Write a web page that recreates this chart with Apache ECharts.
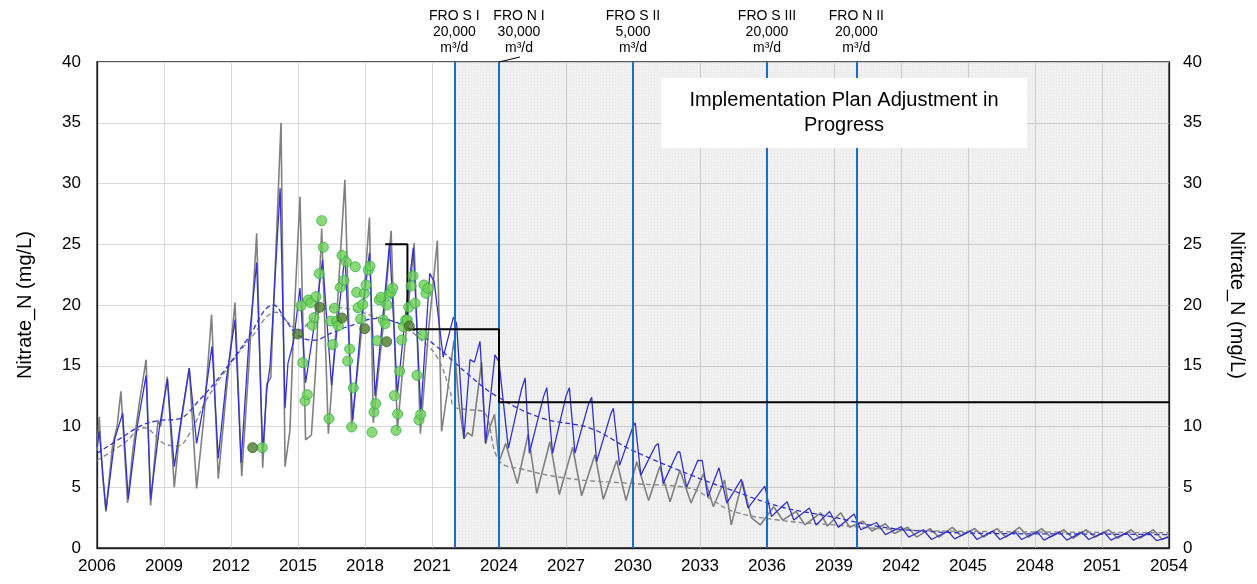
<!DOCTYPE html>
<html>
<head>
<meta charset="utf-8">
<script src="https://cdn.jsdelivr.net/npm/echarts@6/dist/echarts.min.js"></script>
<style>
html,body{margin:0;padding:0;background:#fff;}
#chart{width:1257px;height:584px;}
</style>
</head>
<body>
<div id="chart"></div>
<script>
// ---------------- DATA ----------------
const yearMin = 2006, yearMax = 2054, yearStep = 3;
const yMin = 0, yMax = 40, yStep = 5;

// simulated concentration (grey)
const simGrey = [[2006.0,8.0],[2006.1,10.8],[2006.25,6.0],[2006.4,3.0],[2006.7,8.5],[2006.9,10.0],[2007.07,12.9],[2007.2,9.0],[2007.37,3.7],[2007.6,8.0],[2007.9,12.0],[2008.2,15.5],[2008.4,3.5],[2008.73,10.5],[2008.85,10.0],[2009.15,14.1],[2009.46,5.0],[2009.7,9.5],[2010.13,14.8],[2010.46,4.9],[2010.8,11.0],[2011.13,19.2],[2011.43,5.7],[2011.8,13.0],[2012.18,20.2],[2012.48,5.9],[2012.8,15.0],[2013.15,25.9],[2013.42,6.6],[2013.6,13.5],[2013.78,14.0],[2014.24,35.0],[2014.42,6.7],[2014.64,9.7],[2014.8,18.0],[2015.09,28.9],[2015.34,8.9],[2015.6,9.3],[2015.8,15.0],[2016.06,26.3],[2016.36,9.4],[2016.7,18.0],[2017.1,30.3],[2017.4,9.9],[2017.8,17.0],[2018.2,27.2],[2018.37,10.3],[2018.8,18.0],[2019.17,26.1],[2019.45,9.7],[2019.8,17.0],[2020.2,25.1],[2020.48,9.4],[2020.85,18.0],[2021.24,25.3],[2021.43,9.6],[2021.7,13.0],[2021.98,17.1],[2022.2,12.0],[2022.43,9.0],[2022.6,9.5],[2022.8,9.2],[2023.22,15.3],[2023.4,8.6],[2023.6,10.0],[2023.8,11.0],[2024.0,7.1],[2024.3,8.6],[2024.82,5.3],[2025.31,9.4],[2025.69,4.5],[2026.28,8.75],[2026.7,4.4],[2027.3,8.3],[2027.7,4.3],[2028.3,7.7],[2028.67,4.0],[2029.27,7.2],[2029.69,3.9],[2030.17,7.1],[2030.7,3.9],[2031.2,6.7],[2031.66,3.8],[2032.1,6.4],[2032.6,3.7],[2033.15,6.1],[2033.6,3.4],[2034.1,5.6],[2034.4,1.9],[2034.9,5.5],[2035.3,2.5],[2035.7,1.9],[2036.3,3.4],[2036.7,2.3],[2037.3,3.0],[2037.7,1.9],[2038.4,2.9],[2038.7,1.8],[2039.3,2.9],[2039.7,1.7],[2040.3,2.2],[2040.7,1.4],[2041.3,2.0],[2041.7,1.2],[2042.3,1.7],[2042.7,0.9],[2043.3,1.6],[2043.7,0.9],[2044.3,1.7],[2044.7,1.0],[2045.3,1.6],[2045.7,0.9],[2046.3,1.6],[2046.7,0.9],[2047.3,1.7],[2047.7,0.9],[2048.3,1.6],[2048.7,0.9],[2049.3,1.5],[2049.7,0.8],[2050.3,1.5],[2050.7,0.9],[2051.3,1.5],[2051.7,0.8],[2052.3,1.5],[2052.7,0.8],[2053.3,1.5],[2053.7,0.7],[2054.0,1.0]];

// simulated concentration (blue)
const simBlue = [[2006.0,8.3],[2006.1,9.6],[2006.4,3.1],[2006.8,9.0],[2007.15,11.1],[2007.4,4.0],[2007.8,10.0],[2008.2,14.2],[2008.4,4.0],[2008.8,10.0],[2009.15,13.9],[2009.46,6.7],[2009.8,11.0],[2010.13,14.8],[2010.46,8.6],[2010.8,12.0],[2011.15,16.6],[2011.43,7.4],[2011.8,14.0],[2012.18,18.8],[2012.45,7.0],[2012.8,17.0],[2013.15,23.5],[2013.42,7.8],[2013.6,13.0],[2013.75,15.0],[2014.2,29.6],[2014.42,11.5],[2014.55,15.2],[2014.8,17.0],[2015.09,21.4],[2015.34,13.6],[2015.7,18.0],[2016.1,23.7],[2016.5,13.4],[2016.8,19.0],[2017.1,24.1],[2017.45,10.5],[2017.8,18.0],[2018.2,24.3],[2018.45,12.5],[2018.8,19.0],[2019.1,25.1],[2019.45,12.7],[2019.8,19.0],[2020.16,24.7],[2020.5,11.2],[2020.9,22.6],[2021.1,21.9],[2021.5,15.7],[2021.96,19.0],[2022.1,18.5],[2022.43,9.0],[2022.7,15.5],[2022.9,15.3],[2023.15,17.0],[2023.4,8.6],[2023.82,15.9],[2024.0,15.3],[2024.42,8.2],[2025.0,13.0],[2025.17,14.0],[2025.36,7.8],[2026.0,12.5],[2026.14,13.2],[2026.4,7.8],[2027.0,12.5],[2027.15,13.2],[2027.4,7.8],[2028.0,11.8],[2028.15,12.4],[2028.37,7.1],[2029.0,11.0],[2029.12,11.5],[2029.4,6.8],[2030.0,10.0],[2030.1,10.3],[2030.35,6.0],[2031.0,8.4],[2031.13,8.6],[2031.35,5.3],[2032.0,7.9],[2032.1,7.9],[2032.4,5.0],[2032.9,7.2],[2033.1,7.2],[2033.35,4.2],[2033.85,6.6],[2034.2,3.7],[2034.85,5.65],[2035.15,3.3],[2035.9,5.1],[2036.2,2.6],[2036.9,3.8],[2037.2,2.3],[2037.9,3.3],[2038.2,1.9],[2038.8,3.0],[2039.2,1.7],[2039.9,2.8],[2040.2,1.5],[2040.9,2.1],[2041.3,1.1],[2042.0,1.75],[2042.35,0.9],[2043.0,1.5],[2043.37,0.7],[2044.1,1.4],[2044.4,0.75],[2045.1,1.4],[2045.4,0.7],[2046.1,1.4],[2046.43,0.7],[2047.1,1.35],[2047.4,0.7],[2048.1,1.35],[2048.4,0.65],[2049.1,1.3],[2049.42,0.65],[2050.1,1.3],[2050.4,0.7],[2051.1,1.3],[2051.4,0.65],[2052.1,1.25],[2052.4,0.65],[2053.1,1.25],[2053.45,0.6],[2054.0,0.9]];

// trends (dashed)
const trendBlue = [[2006.0,7.8],[2007.2,9.2],[2008.0,10.1],[2008.8,10.5],[2009.6,10.6],[2010.6,12.2],[2011.7,14.6],[2012.7,17.1],[2013.9,20.0],[2014.5,18.6],[2015.0,17.5],[2015.7,17.1],[2016.5,17.7],[2017.2,18.2],[2018.6,18.9],[2019.5,18.5],[2020.3,17.8],[2021.2,16.6],[2022.0,15.3],[2022.55,14.4],[2023.8,12.6],[2025.9,10.7],[2028.1,9.85],[2029.9,8.1],[2032.6,6.0],[2034.35,4.8],[2036.6,3.4],[2038.8,2.6],[2041.06,1.75],[2043.3,1.35],[2046.0,1.2],[2050.0,1.15],[2054.0,1.1]];
const trendGrey = [[2006.0,7.2],[2007.2,8.6],[2008.1,9.9],[2009.0,8.6],[2009.6,8.4],[2010.2,9.6],[2010.9,12.2],[2012.0,15.2],[2012.9,17.3],[2014.0,19.4],[2014.6,18.5],[2015.0,17.9],[2015.8,19.2],[2016.5,19.8],[2017.5,19.6],[2018.5,19.0],[2019.6,18.4],[2020.4,17.3],[2021.2,15.8],[2021.8,13.0],[2022.0,11.6],[2022.6,11.4],[2023.3,11.2],[2024.0,7.2],[2025.0,6.5],[2027.2,5.7],[2030.0,5.3],[2032.6,4.9],[2033.5,4.0],[2034.5,3.0],[2036.5,2.3],[2039.0,1.9],[2042.0,1.5],[2046.0,1.35],[2050.0,1.3],[2054.0,1.25]];

// observations
const obsLight = [[2013.40,8.26],[2015.134,19.94],[2015.209,15.25],[2015.313,12.10],[2015.418,12.62],[2015.463,20.41],[2015.567,20.19],[2015.642,18.33],[2015.716,18.96],[2015.806,20.69],[2015.955,22.58],[2016.060,26.94],[2016.134,24.75],[2016.388,10.64],[2016.463,18.68],[2016.552,16.74],[2016.627,19.73],[2016.731,18.68],[2016.806,18.27],[2016.896,21.45],[2016.970,24.09],[2017.060,22.03],[2017.164,23.54],[2017.224,15.39],[2017.313,16.38],[2017.403,9.96],[2017.478,13.17],[2017.567,23.15],[2017.627,21.04],[2017.687,19.78],[2017.806,18.85],[2017.896,20.05],[2017.970,20.96],[2018.045,21.65],[2018.149,22.88],[2018.224,23.21],[2018.313,9.52],[2018.403,11.19],[2018.478,11.88],[2018.552,17.06],[2018.642,20.41],[2018.716,20.63],[2018.821,18.77],[2018.896,18.46],[2018.985,20.0],[2019.075,20.88],[2019.164,21.04],[2019.239,21.40],[2019.313,12.54],[2019.388,9.68],[2019.463,11.03],[2019.552,14.54],[2019.642,17.12],[2019.716,18.22],[2019.821,18.77],[2019.896,18.77],[2019.955,19.81],[2020.060,21.56],[2020.149,22.41],[2020.239,20.14],[2020.328,14.21],[2020.418,10.53],[2020.493,11.0],[2020.582,17.53],[2020.642,21.65],[2020.731,20.96],[2020.821,21.37]];
const obsDark = [[2012.97,8.26],[2014.985,17.61],[2015.970,19.81],[2016.970,18.93],[2017.985,18.05],[2018.970,16.98],[2019.985,18.27]];

// standard / target step line
const targetStep = [[2018.9,25],[2019.9,25],[2019.9,18],[2024,18],[2024,12],[2054,12]];

// implementation milestones
const msYears = [2022, 2024, 2030, 2036, 2040];
const msNames = ['FRO S I', 'FRO N I', 'FRO S II', 'FRO S III', 'FRO N II'];
const msCaps  = ['20,000', '30,000', '5,000', '20,000', '20,000'];
const msUnit = 'm³/d';

const projStart = 2022, projEnd = 2054;
const yTitle = 'Nitrate_N (mg/L)';
const noteText = 'Implementation Plan Adjustment in\nProgress';

// ---------------- CHART ----------------
const FONT = '"Liberation Sans", Arial, sans-serif';
const chart = echarts.init(document.getElementById('chart'), null, {renderer: 'canvas'});

// fine mesh pattern for projection period
const pc = document.createElement('canvas');
pc.width = 3; pc.height = 3;
const pctx = pc.getContext('2d');
pctx.fillStyle = 'rgba(0,0,0,0.05)';
pctx.fillRect(0,0,3,3);
pctx.fillStyle = 'rgba(0,0,0,0.025)';
pctx.fillRect(0,0,3,1);
pctx.fillRect(0,1,1,2);

const msLines = msYears.map((y, i) => ({
  xAxis: y,
  label: {
    show: true,
    position: 'end',
    formatter: msNames[i] + '\n' + msCaps[i] + '\n' + msUnit,
    color: '#000',
    fontFamily: FONT,
    fontSize: 14,
    lineHeight: 16,
    align: 'center',
    distance: 6,
    offset: i === 1 ? [20, 0] : [0, 0]
  }
}));

const option = {
  animation: false,
  backgroundColor: '#fff',
  grid: {left: 97, right: 88, top: 62, bottom: 36, show: true, borderColor: '#222', borderWidth: 1.3, backgroundColor: 'transparent'},
  xAxis: {
    type: 'value', min: yearMin, max: yearMax, interval: yearStep,
    axisLine: {show: true, lineStyle: {color: '#222', width: 1.3}},
    axisTick: {show: false},
    axisLabel: {color: '#000', fontSize: 17, fontFamily: FONT, margin: 10, formatter: v => String(v)},
    splitLine: {show: true, lineStyle: {color: '#d9d9d9', width: 1}}
  },
  yAxis: [{
    type: 'value', min: yMin, max: yMax, interval: yStep,
    name: yTitle, nameLocation: 'middle', nameGap: 62,
    nameTextStyle: {color: '#000', fontSize: 20, fontFamily: FONT},
    axisLine: {show: true, lineStyle: {color: '#222', width: 1.3}},
    axisTick: {show: false},
    axisLabel: {color: '#000', fontSize: 17, fontFamily: FONT, margin: 16},
    splitLine: {show: true, lineStyle: {color: '#d9d9d9', width: 1}}
  }, {
    type: 'value', min: yMin, max: yMax, interval: yStep, position: 'right',
    name: yTitle, nameLocation: 'middle', nameGap: 58, nameRotate: -90,
    nameTextStyle: {color: '#000', fontSize: 20, fontFamily: FONT},
    axisLine: {show: true, lineStyle: {color: '#222', width: 1.3}},
    axisTick: {show: false},
    axisLabel: {color: '#000', fontSize: 17, fontFamily: FONT, margin: 14},
    splitLine: {show: false}
  }],
  series: [
    {
      type: 'line', data: simGrey, showSymbol: false, symbol: 'none',
      lineStyle: {color: '#808080', width: 1.6}, z: 3,
      markArea: {
        silent: true,
        itemStyle: {color: {image: pc, repeat: 'repeat'}},
        data: [[{xAxis: projStart}, {xAxis: projEnd}]]
      }
    },
    {type: 'line', data: trendGrey, smooth: 0.4, symbol: 'none', lineStyle: {color: '#8a8a8a', width: 1.4, type: [5, 3]}, z: 3},
    {type: 'line', data: simBlue, symbol: 'none', lineStyle: {color: '#3333cc', width: 1.3}, z: 4},
    {type: 'line', data: trendBlue, smooth: 0.4, symbol: 'none', lineStyle: {color: '#3333cc', width: 1.3, type: [5, 3]}, z: 4},
    {type: 'line', data: targetStep, symbol: 'none', lineStyle: {color: '#000', width: 2}, z: 5},
    {
      type: 'line', data: [], symbol: 'none', z: 6,
      markLine: {
        silent: true, symbol: ['none', 'none'],
        lineStyle: {color: '#1a6fc4', width: 2, type: 'solid'},
        data: msLines
      }
    },
    {type: 'scatter', data: obsLight, symbolSize: 10, itemStyle: {color: '#6fcf55', borderColor: '#2fb04c', borderWidth: 1}, z: 7},
    {type: 'scatter', data: obsDark, symbolSize: 10, itemStyle: {color: '#4e7a2f', borderColor: '#3e6525', borderWidth: 1}, z: 8}
  ],
  graphic: [
    {type: 'rect', shape: {x: 661, y: 78, width: 366, height: 70}, style: {fill: '#fff'}, z: 100},
    {type: 'text', x: 844, y: 113, z: 101, style: {text: noteText, fill: '#000', font: '20px ' + FONT, align: 'center', verticalAlign: 'middle', lineHeight: 25}},
    {type: 'line', shape: {x1: 499, y1: 62, x2: 520, y2: 57}, style: {stroke: '#000', lineWidth: 1}, z: 100}
  ]
};
chart.setOption(option);
</script>
</body>
</html>
